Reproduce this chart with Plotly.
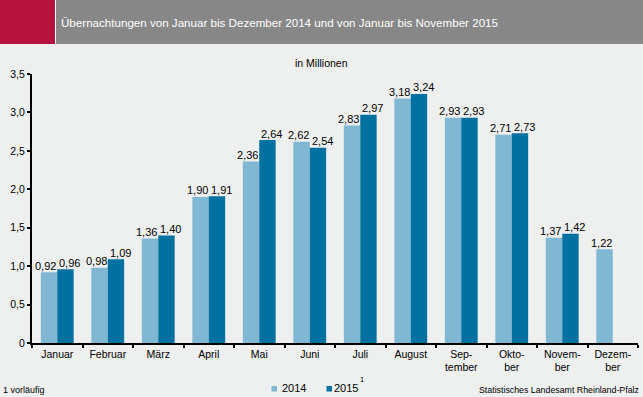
import plotly.graph_objects as go

categories = ["Januar", "Februar", "März", "April", "Mai", "Juni", "Juli", "August",
              "Sep-<br>tember", "Okto-<br>ber", "Novem-<br>ber", "Dezem-<br>ber"]
values_2014 = [0.92, 0.98, 1.36, 1.90, 2.36, 2.62, 2.83, 3.18, 2.93, 2.71, 1.37, 1.22]
values_2015 = [0.96, 1.09, 1.40, 1.91, 2.64, 2.54, 2.97, 3.24, 2.93, 2.73, 1.42, None]
y_tickvals = [0, 0.5, 1.0, 1.5, 2.0, 2.5, 3.0, 3.5]
y_ticktext = ["0", "0,5", "1,0", "1,5", "2,0", "2,5", "3,0", "3,5"]

W, H = 643, 397
ML, MR, MT, MB = 32, 5, 74, 54
PW, PH = W - ML - MR, H - MT - MB
BARGAP = 0.35

def px_x(x):
    return (x - ML) / PW

def px_y(y):
    return (H - MB - y) / PH

FONT = "Liberation Sans, Arial, sans-serif"
BG = "#EEEFEF"
C14 = "#80B7D3"
C15 = "#0071A1"

fig = go.Figure()
fig.add_trace(go.Bar(x=categories, y=values_2014, name="2014",
                     marker=dict(color=C14, line=dict(width=0))))
fig.add_trace(go.Bar(x=categories, y=values_2015, name="2015",
                     marker=dict(color=C15, line=dict(width=0))))

# value labels (Excel-style, nudged apart)
cat_w = PW / len(categories)
bar_w = cat_w * (1 - BARGAP) / 2
annotations = []
for cat, v in zip(categories, values_2014):
    if v is not None:
        annotations.append(dict(x=cat, y=v, xref="x", yref="y", text=f"{v:.2f}".replace(".", ","),
                                showarrow=False, xanchor="center", yanchor="bottom",
                                xshift=-bar_w / 2 - 3.5, yshift=-1.5,
                                font=dict(size=11, color="#000000", family=FONT)))
for cat, v in zip(categories, values_2015):
    if v is not None:
        annotations.append(dict(x=cat, y=v, xref="x", yref="y", text=f"{v:.2f}".replace(".", ","),
                                showarrow=False, xanchor="center", yanchor="bottom",
                                xshift=bar_w / 2 + 4.5, yshift=-1.5,
                                font=dict(size=11, color="#000000", family=FONT)))

annotations += [
    dict(text="Übernachtungen von Januar bis Dezember 2014 und von Januar bis November 2015",
         xref="paper", yref="paper", x=px_x(58.5), y=px_y(22), xanchor="left", yanchor="middle",
         showarrow=False, font=dict(size=11.6, color="#FFFFFF", family=FONT)),
    dict(text="in Millionen", xref="paper", yref="paper", x=px_x(321), y=px_y(63),
         xanchor="center", yanchor="middle", showarrow=False, font=dict(size=10.5, family=FONT)),
    dict(text="1 vorläufig", xref="paper", yref="paper", x=px_x(1), y=px_y(389.5),
         xanchor="left", yanchor="middle", showarrow=False, font=dict(size=9, family=FONT)),
    dict(text="Statistisches Landesamt Rheinland-Pfalz", xref="paper", yref="paper",
         x=px_x(641), y=px_y(389.5), xanchor="right", yanchor="middle", showarrow=False,
         font=dict(size=8.8, family=FONT)),
    dict(text="2014", xref="paper", yref="paper", x=px_x(279.5), y=px_y(388),
         xanchor="left", yanchor="middle", showarrow=False, font=dict(size=11, family=FONT)),
    dict(text="2015", xref="paper", yref="paper", x=px_x(332), y=px_y(388),
         xanchor="left", yanchor="middle", showarrow=False, font=dict(size=11, family=FONT)),
    dict(text="1", xref="paper", yref="paper", x=px_x(362), y=px_y(379),
         xanchor="center", yanchor="middle", showarrow=False, font=dict(size=7.5, family=FONT)),
]

shapes = [
    dict(type="rect", xref="paper", yref="paper", x0=px_x(0), x1=px_x(W), y0=px_y(44), y1=px_y(0),
         fillcolor="#878787", line=dict(width=0), layer="below"),
    dict(type="rect", xref="paper", yref="paper", x0=px_x(0), x1=px_x(55), y0=px_y(44), y1=px_y(0),
         fillcolor="#B5123E", line=dict(width=0), layer="below"),
    dict(type="rect", xref="paper", yref="paper", x0=px_x(55), x1=px_x(56), y0=px_y(44), y1=px_y(0),
         fillcolor="#FFFFFF", line=dict(width=0), layer="below"),
    dict(type="rect", xref="paper", yref="paper", x0=px_x(271.5), x1=px_x(277), y0=px_y(391.5), y1=px_y(386),
         fillcolor=C14, line=dict(width=0)),
    dict(type="rect", xref="paper", yref="paper", x0=px_x(326.5), x1=px_x(332), y0=px_y(391.5), y1=px_y(386),
         fillcolor=C15, line=dict(width=0)),
]

fig.update_layout(
    width=W, height=H, autosize=False,
    margin=dict(l=ML, r=MR, t=MT, b=MB, pad=0),
    paper_bgcolor=BG, plot_bgcolor=BG,
    barmode="group", bargap=BARGAP, bargroupgap=0,
    separators=",.",
    font=dict(family=FONT, size=10, color="#000000"),
    showlegend=False,
    xaxis=dict(
        showline=True, linecolor="#000000", linewidth=2,
        ticks="outside", tickson="boundaries", ticklen=3, tickcolor="#000000", tickwidth=1.5,
        tickfont=dict(size=10.5, family=FONT), showgrid=False, automargin=False,
    ),
    yaxis=dict(
        range=[0, 3.5], showline=True, linecolor="#000000", linewidth=2,
        ticks="outside", ticklen=3, tickcolor="#000000", tickwidth=1.5,
        tickvals=y_tickvals, ticktext=y_ticktext,
        tickfont=dict(size=10.5, family=FONT), showgrid=False, zeroline=False, automargin=False,
    ),
    shapes=shapes,
    annotations=annotations,
)

fig.write_html("out.html", config={"displayModeBar": False},
               post_script="document.body.style.margin='0';document.body.style.overflow='hidden';")
